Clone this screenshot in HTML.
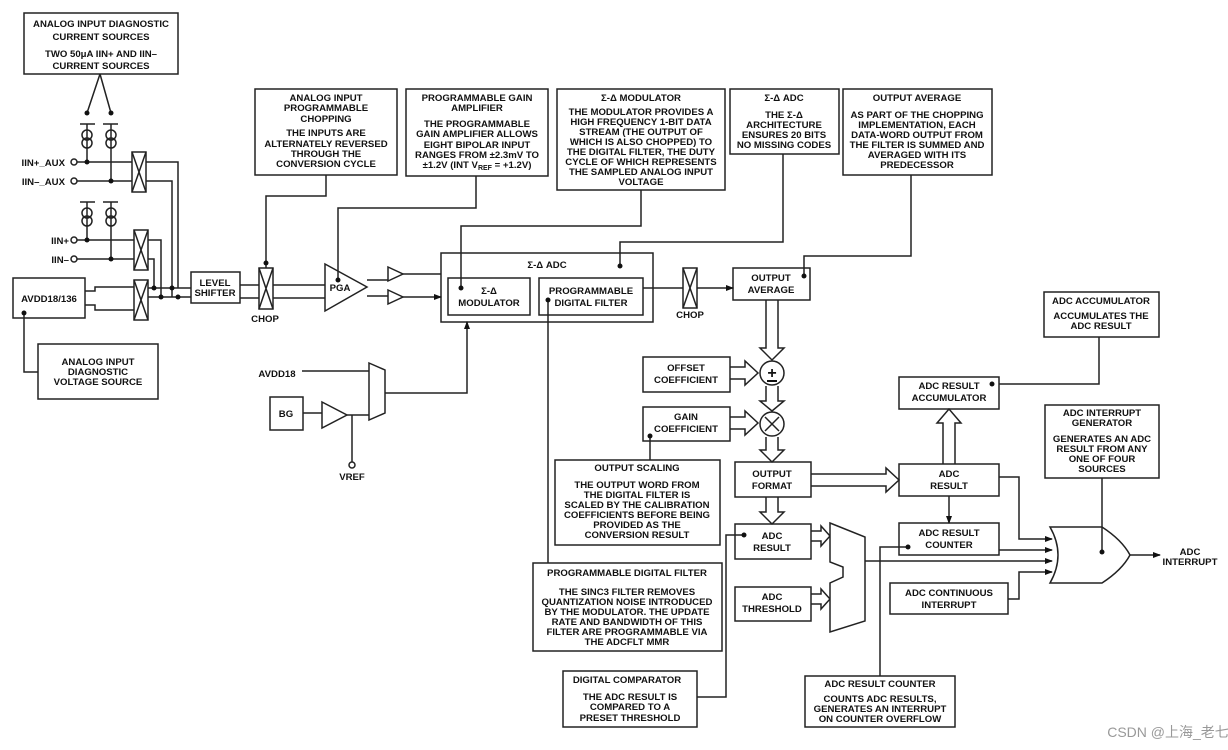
<!DOCTYPE html>
<html><head><meta charset="utf-8"><style>
html,body{margin:0;padding:0;background:#fff;}
svg{display:block;}
text{font-family:"Liberation Sans",sans-serif;font-weight:bold;font-size:9.6px;fill:#111;text-anchor:middle;}
</style></head><body>
<svg width="1228" height="750" viewBox="0 0 1228 750" xmlns="http://www.w3.org/2000/svg">
<defs>
<marker id="a" markerWidth="8" markerHeight="8" refX="7" refY="4" orient="auto" markerUnits="userSpaceOnUse"><path d="M0,1 L8,4 L0,7z" fill="#111"/></marker>
</defs>
<g fill="none" stroke="#222" stroke-width="1.5">
<rect x="24" y="13" width="154" height="61"/>
<rect x="255" y="89" width="142" height="86"/>
<rect x="406" y="89" width="142" height="87"/>
<rect x="557" y="89" width="168" height="101"/>
<rect x="730" y="89" width="109" height="65"/>
<rect x="843" y="89" width="149" height="86"/>
<rect x="13" y="278" width="72" height="40"/>
<rect x="38" y="344" width="120" height="55"/>
<rect x="191" y="272" width="49" height="31"/>
<rect x="441" y="253" width="212" height="69"/>
<rect x="448" y="278" width="82" height="37"/>
<rect x="539" y="278" width="104" height="37"/>
<rect x="733" y="268" width="77" height="32"/>
<rect x="643" y="357" width="87" height="35"/>
<rect x="643" y="407" width="87" height="34"/>
<rect x="735" y="462" width="76" height="35"/>
<rect x="735" y="524" width="76" height="35"/>
<rect x="735" y="587" width="76" height="34"/>
<rect x="899" y="377" width="100" height="32"/>
<rect x="899" y="464" width="100" height="32"/>
<rect x="899" y="523" width="100" height="32"/>
<rect x="890" y="583" width="118" height="31"/>
<rect x="1044" y="292" width="115" height="45"/>
<rect x="1045" y="405" width="114" height="73"/>
<rect x="555" y="460" width="165" height="85"/>
<rect x="533" y="563" width="189" height="88"/>
<rect x="563" y="671" width="134" height="56"/>
<rect x="805" y="676" width="150" height="51"/>
<rect x="270" y="397" width="33" height="33"/>
<rect x="132" y="152" width="14" height="40"/><path d="M132,152L146,192M146,152L132,192"/>
<rect x="134" y="230" width="14" height="40"/><path d="M134,230L148,270M148,230L134,270"/>
<rect x="134" y="280" width="14" height="40"/><path d="M134,280L148,320M148,280L134,320"/>
<rect x="259" y="268" width="14" height="41"/><path d="M259,268L273,309M273,268L259,309"/>
<rect x="683" y="268" width="14" height="40"/><path d="M683,268L697,308M697,268L683,308"/>
<path d="M100,74L87,113M100,74L111,113"/>
<path d="M80,124H95M103,124H118M87,124V162M111,124V181"/>
<circle cx="87" cy="135" r="5"/><circle cx="87" cy="143" r="5"/>
<circle cx="111" cy="135" r="5"/><circle cx="111" cy="143" r="5"/>
<path d="M80,202H95M103,202H118M87,202V240M111,202V259"/>
<circle cx="87" cy="213" r="5"/><circle cx="87" cy="221" r="5"/>
<circle cx="111" cy="213" r="5"/><circle cx="111" cy="221" r="5"/>
<path d="M77,162H132M77,181H132M77,240H134M77,259H134"/>
<circle cx="74" cy="162" r="3" fill="#fff"/><circle cx="74" cy="181" r="3" fill="#fff"/>
<circle cx="74" cy="240" r="3" fill="#fff"/><circle cx="74" cy="259" r="3" fill="#fff"/>
<path d="M146,162H178V288M146,181H172V297M148,240H161V297M148,259H154V288"/>
<path d="M85,291H95V287H134M85,305H95V310H134"/>
<path d="M148,288H191M148,297H191"/>
<path d="M24,313V372H38"/>
<path d="M240,285H259M240,298H259M273,285H325M273,298H325"/>
<path d="M266,268V196H326V175"/>
<path d="M325,264L367,287L325,311Z"/>
<path d="M338,280V208H476V176"/>
<path d="M367,280H388M367,296H388"/>
<path d="M388,267L403,274L388,281ZM388,290L403,297L388,304Z"/>
<path d="M403,274H441M403,297H441" marker-end="url(#a)"/>
<path d="M461,288V226H641V190"/>
<path d="M620,266V242H783V154"/>
<path d="M643,288H683M697,288H733" marker-end="url(#a)"/>
<path d="M804,276V256H911V175"/>
<path d="M548,300V563"/>
<path d="M302,371H369"/>
<path d="M369,363L385,370V413L369,420Z"/>
<path d="M385,393H467V322" marker-end="url(#a)"/>
<path d="M303,413H322"/>
<path d="M322,402L347,415L322,428Z"/>
<path d="M347,415H369M352,415V462"/>
<circle cx="352" cy="465" r="3" fill="#fff"/>
<!-- double arrows -->
<path d="M766,300V348L760,348L772,360L784,348L778,348V300"/>
<path d="M730,367H745L745,361L758,373L745,385L745,379H730"/>
<path d="M766,386V401L760,401L772,411L784,401L778,401V386"/>
<path d="M730,417H745L745,411L758,423L745,435L745,429H730"/>
<path d="M766,437V450L760,450L772,462L784,450L778,450V437"/>
<circle cx="772" cy="373" r="12" fill="#fff"/>
<circle cx="772" cy="424" r="12" fill="#fff"/>
<path d="M765,417L779,431M779,417L765,431"/>
<path d="M766,497V512L760,512L772,524L784,512L778,512V497"/>
<path d="M811,474H886L886,468L899,480L886,492L886,486H811"/>
<path d="M943,464V423L937,423L949,409L961,423L955,423V464"/>
<path d="M811,531H821L821,526L830,536L821,546L821,541H811"/>
<path d="M811,594H821L821,589L830,599L821,609L821,604H811"/>
<path d="M830,523L865,537V621L830,632V583L843,577V567L830,562Z" fill="#fff"/>
<path d="M949,496V523" marker-end="url(#a)"/>
<path d="M999,384H1099V337"/>
<path d="M999,477H1019V539H1052" marker-end="url(#a)"/>
<path d="M999,550H1052" marker-end="url(#a)"/>
<path d="M865,561H1052" marker-end="url(#a)"/>
<path d="M1008,599H1019V572H1052" marker-end="url(#a)"/>
<path d="M1050,527Q1085,527 1102,527Q1122,540 1130,555Q1122,570 1102,583Q1085,583 1050,583Q1066,555 1050,527Z"/>
<path d="M1130,555H1160" marker-end="url(#a)"/>
<path d="M1102,478V552"/>
<path d="M650,460V436"/>
<path d="M744,535H726V697H697"/>
<path d="M908,547H880V676"/>
</g>
<g fill="#111">
<circle cx="87" cy="113" r="2.5"/><circle cx="111" cy="113" r="2.5"/>
<circle cx="87" cy="162" r="2.5"/><circle cx="111" cy="181" r="2.5"/>
<circle cx="87" cy="240" r="2.5"/><circle cx="111" cy="259" r="2.5"/>
<circle cx="154" cy="288" r="2.5"/><circle cx="172" cy="288" r="2.5"/>
<circle cx="161" cy="297" r="2.5"/><circle cx="178" cy="297" r="2.5"/>
<circle cx="24" cy="313" r="2.5"/><circle cx="266" cy="263" r="2.5"/>
<circle cx="338" cy="280" r="2.5"/><circle cx="461" cy="288" r="2.5"/>
<circle cx="620" cy="266" r="2.5"/><circle cx="548" cy="300" r="2.5"/>
<circle cx="804" cy="276" r="2.5"/><circle cx="650" cy="436" r="2.5"/>
<circle cx="744" cy="535" r="2.5"/><circle cx="908" cy="547" r="2.5"/>
<circle cx="992" cy="384" r="2.5"/><circle cx="1102" cy="552" r="2.5"/>
</g>
<text x="772" y="378" style="font-size:16px">+</text>
<rect x="767" y="380" width="10" height="2" fill="#111"/>
<text x="101" y="27">ANALOG INPUT DIAGNOSTIC</text><text x="101" y="40">CURRENT SOURCES</text>
<text x="101" y="57">TWO 50μA IIN+ AND IIN–</text><text x="101" y="69">CURRENT SOURCES</text>
<text x="326" y="101">ANALOG INPUT</text><text x="326" y="111">PROGRAMMABLE</text><text x="326" y="122">CHOPPING</text>
<text x="326" y="136">THE INPUTS ARE</text><text x="326" y="147">ALTERNATELY REVERSED</text><text x="326" y="157">THROUGH THE</text><text x="326" y="167">CONVERSION CYCLE</text>
<text x="477" y="101">PROGRAMMABLE GAIN</text><text x="477" y="111">AMPLIFIER</text>
<text x="477" y="127">THE PROGRAMMABLE</text><text x="477" y="137">GAIN AMPLIFIER ALLOWS</text><text x="477" y="148">EIGHT BIPOLAR INPUT</text><text x="477" y="158">RANGES FROM ±2.3mV TO</text><text x="477" y="168">±1.2V (INT V<tspan dy="2" style="font-size:7px">REF</tspan><tspan dy="-2"> = +1.2V)</tspan></text>
<text x="641" y="101">Σ-Δ MODULATOR</text>
<text x="641" y="115">THE MODULATOR PROVIDES A</text><text x="641" y="125">HIGH FREQUENCY 1-BIT DATA</text><text x="641" y="135">STREAM (THE OUTPUT OF</text><text x="641" y="145">WHICH IS ALSO CHOPPED) TO</text><text x="641" y="155">THE DIGITAL FILTER, THE DUTY</text><text x="641" y="165">CYCLE OF WHICH REPRESENTS</text><text x="641" y="175">THE SAMPLED ANALOG INPUT</text><text x="641" y="185">VOLTAGE</text>
<text x="784" y="101">Σ-Δ ADC</text><text x="784" y="118">THE Σ-Δ</text><text x="784" y="128">ARCHITECTURE</text><text x="784" y="138">ENSURES 20 BITS</text><text x="784" y="148">NO MISSING CODES</text>
<text x="917" y="101">OUTPUT AVERAGE</text><text x="917" y="118">AS PART OF THE CHOPPING</text><text x="917" y="128">IMPLEMENTATION, EACH</text><text x="917" y="138">DATA-WORD OUTPUT FROM</text><text x="917" y="148">THE FILTER IS SUMMED AND</text><text x="917" y="158">AVERAGED WITH ITS</text><text x="917" y="168">PREDECESSOR</text>
<text x="65" y="166" style="text-anchor:end">IIN+_AUX</text><text x="65" y="185" style="text-anchor:end">IIN–_AUX</text>
<text x="69" y="244" style="text-anchor:end">IIN+</text><text x="69" y="263" style="text-anchor:end">IIN–</text>
<text x="49" y="302">AVDD18/136</text>
<text x="98" y="365">ANALOG INPUT</text><text x="98" y="375">DIAGNOSTIC</text><text x="98" y="385">VOLTAGE SOURCE</text>
<text x="215" y="286">LEVEL</text><text x="215" y="296">SHIFTER</text>
<text x="265" y="322">CHOP</text><text x="340" y="291">PGA</text>
<text x="547" y="268">Σ-Δ ADC</text>
<text x="489" y="294">Σ-Δ</text><text x="489" y="306">MODULATOR</text>
<text x="591" y="294">PROGRAMMABLE</text><text x="591" y="306">DIGITAL FILTER</text>
<text x="690" y="318">CHOP</text>
<text x="771" y="281">OUTPUT</text><text x="771" y="293">AVERAGE</text>
<text x="277" y="377">AVDD18</text><text x="286" y="417">BG</text><text x="352" y="480">VREF</text>
<text x="686" y="371">OFFSET</text><text x="686" y="383">COEFFICIENT</text>
<text x="686" y="420">GAIN</text><text x="686" y="432">COEFFICIENT</text>
<text x="772" y="477">OUTPUT</text><text x="772" y="489">FORMAT</text>
<text x="772" y="539">ADC</text><text x="772" y="551">RESULT</text>
<text x="772" y="600">ADC</text><text x="772" y="612">THRESHOLD</text>
<text x="949" y="389">ADC RESULT</text><text x="949" y="401">ACCUMULATOR</text>
<text x="949" y="477">ADC</text><text x="949" y="489">RESULT</text>
<text x="949" y="536">ADC RESULT</text><text x="949" y="548">COUNTER</text>
<text x="949" y="596">ADC CONTINUOUS</text><text x="949" y="608">INTERRUPT</text>
<text x="1101" y="304">ADC ACCUMULATOR</text><text x="1101" y="319">ACCUMULATES THE</text><text x="1101" y="329">ADC RESULT</text>
<text x="1102" y="416">ADC INTERRUPT</text><text x="1102" y="426">GENERATOR</text><text x="1102" y="442">GENERATES AN ADC</text><text x="1102" y="452">RESULT FROM ANY</text><text x="1102" y="462">ONE OF FOUR</text><text x="1102" y="472">SOURCES</text>
<text x="1190" y="555">ADC</text><text x="1190" y="565">INTERRUPT</text>
<text x="637" y="471">OUTPUT SCALING</text><text x="637" y="488">THE OUTPUT WORD FROM</text><text x="637" y="498">THE DIGITAL FILTER IS</text><text x="637" y="508">SCALED BY THE CALIBRATION</text><text x="637" y="518">COEFFICIENTS BEFORE BEING</text><text x="637" y="528">PROVIDED AS THE</text><text x="637" y="538">CONVERSION RESULT</text>
<text x="627" y="576">PROGRAMMABLE DIGITAL FILTER</text><text x="627" y="595">THE SINC3 FILTER REMOVES</text><text x="627" y="605">QUANTIZATION NOISE INTRODUCED</text><text x="627" y="615">BY THE MODULATOR. THE UPDATE</text><text x="627" y="625">RATE AND BANDWIDTH OF THIS</text><text x="627" y="635">FILTER ARE PROGRAMMABLE VIA</text><text x="627" y="645">THE ADCFLT MMR</text>
<text x="627" y="683">DIGITAL COMPARATOR</text><text x="630" y="700">THE ADC RESULT IS</text><text x="630" y="710">COMPARED TO A</text><text x="630" y="721">PRESET THRESHOLD</text>
<text x="880" y="687">ADC RESULT COUNTER</text><text x="880" y="702">COUNTS ADC RESULTS,</text><text x="880" y="712">GENERATES AN INTERRUPT</text><text x="880" y="722">ON COUNTER OVERFLOW</text>
<text x="1168" y="737" style="font-weight:normal;font-size:14px;fill:#999;font-family:'Liberation Sans','Noto Sans CJK SC',sans-serif">CSDN @上海_老七</text>
</svg>
</body></html>
